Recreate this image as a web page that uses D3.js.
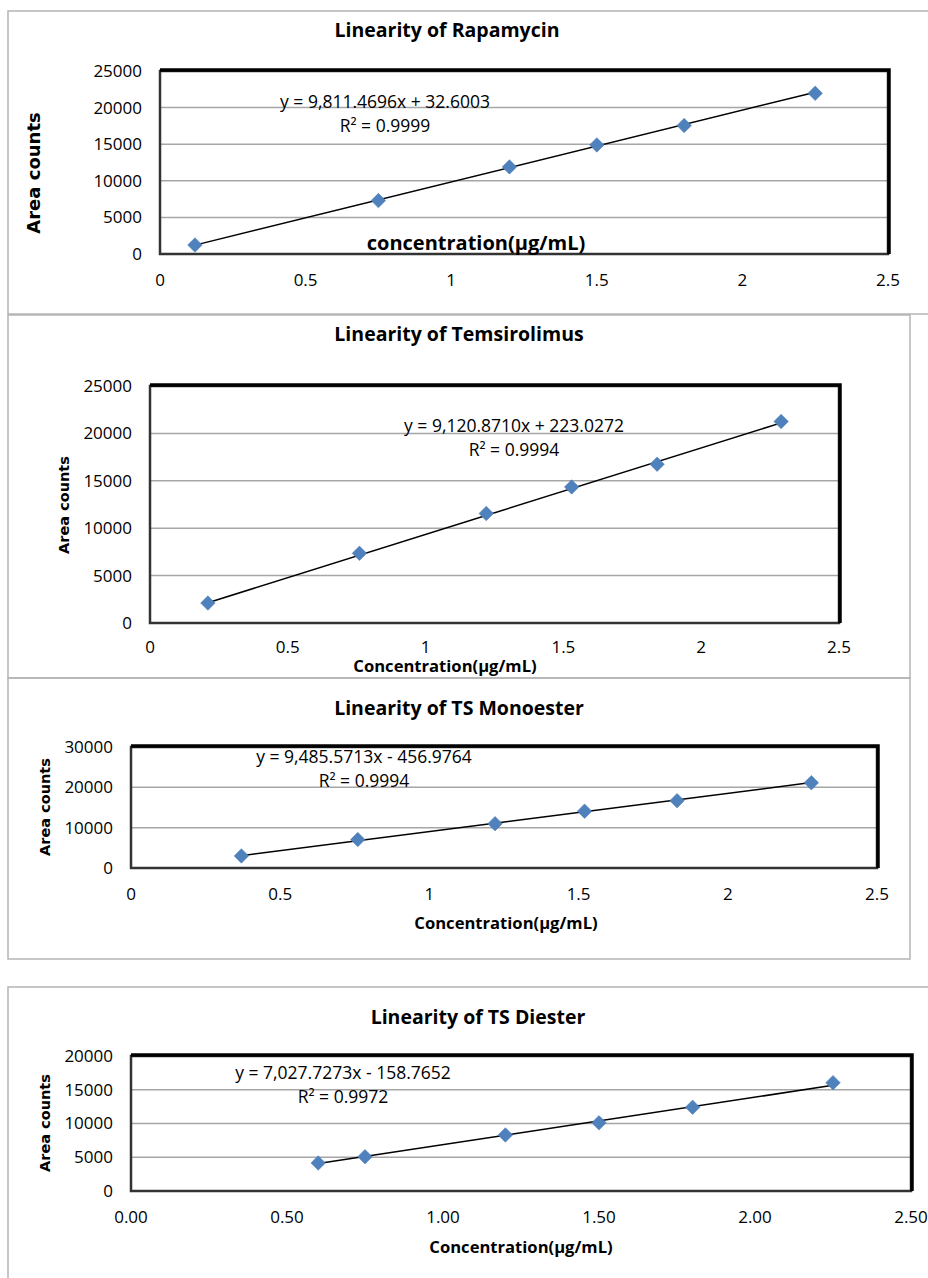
<!DOCTYPE html>
<html lang="en">
  <head>
    <meta charset="UTF-8" />
    <title>Linearity plots – D3.js</title>
    <script src="https://d3js.org/d3.v7.min.js"></script>
    <style>
      body {
        margin: 0;
        background: #fff;
      }
      svg {
        display: block;
        font-family: 'Open Sans', sans-serif;
      }
      .tick-label {
        font-size: 17px;
        fill: #000;
      }
      .eq-text {
        font-size: 17.5px;
        fill: #000;
      }
      .title {
        font-size: 19.5px;
        font-weight: bold;
      }
      .x-title {
        font-weight: bold;
      }
      .y-title {
        font-family: 'DejaVu Sans', sans-serif;
        font-weight: bold;
      }
    </style>
  </head>
  <body>
    <svg width="928" height="1278"></svg>

    <script>
      // data
      const titles = [
        'Linearity of Rapamycin',
        'Linearity of Temsirolimus',
        'Linearity of TS Monoester',
        'Linearity of TS Diester',
      ];
      const xTitles = [
        'concentration(µg/mL)',
        'Concentration(µg/mL)',
        'Concentration(µg/mL)',
        'Concentration(µg/mL)',
      ];
      const yTitle = 'Area counts';

      const rapaConc = [0.12, 0.75, 1.2, 1.5, 1.8, 2.25];
      const rapaArea = [1230, 7300, 11900, 14900, 17550, 21950];
      const temsConc = [0.21, 0.76, 1.22, 1.53, 1.84, 2.29];
      const temsArea = [2100, 7350, 11550, 14350, 16750, 21250];
      const monoConc = [0.37, 0.76, 1.22, 1.52, 1.83, 2.28];
      const monoArea = [3000, 7050, 11000, 14100, 16700, 21150];
      const diConc = [0.6, 0.75, 1.2, 1.5, 1.8, 2.25];
      const diArea = [4150, 5080, 8300, 10100, 12400, 16050];

      const slopes = [9811.4696, 9120.871, 9485.5713, 7027.7273];
      const intercepts = [32.6003, 223.0272, -456.9764, -158.7652];
      const r2Values = ['0.9999', '0.9994', '0.9994', '0.9972'];

      const yMax = [25000, 25000, 30000, 20000];
      const yStep = [5000, 5000, 10000, 5000];
      const xTicks = [0, 0.5, 1, 1.5, 2, 2.5];
      const xTickDigits = [0, 0, 0, 2];

      const concs = [rapaConc, temsConc, monoConc, diConc];
      const areas = [rapaArea, temsArea, monoArea, diArea];

      // layout of each panel (page coordinates)
      const layout = [
        {
          box: [8, 11, 940, 303],
          plot: { l: 160, r: 888, t: 71, b: 254 },
          title: [447, 30],
          xTitle: [476, 243, 20],
          yTitle: [34, 173, 18],
          eq: [385, 102],
          xTickGap: 26,
        },
        {
          box: [8, 315, 902, 363],
          plot: { l: 150, r: 839, t: 386, b: 623 },
          title: [459, 334],
          xTitle: [445, 666, 16.6],
          yTitle: [64, 505, 14.5],
          eq: [514, 426],
          xTickGap: 24,
        },
        {
          box: [8, 678, 902, 281],
          plot: { l: 131, r: 877, t: 747, b: 868 },
          title: [459, 708],
          xTitle: [506, 923, 16.6],
          yTitle: [45, 807, 14.5],
          eq: [364, 757],
          xTickGap: 26,
        },
        {
          box: [8, 987, 940, 400],
          plot: { l: 131, r: 911, t: 1056, b: 1191 },
          title: [478, 1017],
          xTitle: [521, 1247, 16.6],
          yTitle: [45, 1123, 14.5],
          eq: [343, 1073],
          xTickGap: 26,
        },
      ];

      const svg = d3.select('svg');

      layout.forEach((lay, i) => {
        const p = lay.plot;
        const g = svg.append('g');

        // outer chart box
        g.append('rect')
          .attr('x', lay.box[0])
          .attr('y', lay.box[1])
          .attr('width', lay.box[2])
          .attr('height', lay.box[3])
          .attr('fill', 'none')
          .attr('stroke', '#b4b4b4')
          .attr('stroke-width', 1.5);

        const x = d3.scaleLinear().domain([0, 2.5]).range([p.l, p.r]);
        const y = d3.scaleLinear().domain([0, yMax[i]]).range([p.b, p.t]);
        const yTicks = d3.range(0, yMax[i] + 1, yStep[i]);

        // gridlines
        g.selectAll('line.grid')
          .data(yTicks.slice(1, -1))
          .join('line')
          .attr('class', 'grid')
          .attr('x1', p.l)
          .attr('x2', p.r)
          .attr('y1', (d) => y(d))
          .attr('y2', (d) => y(d))
          .attr('stroke', '#a6a6a6')
          .attr('stroke-width', 1.5);

        // plot area frame: heavy top/right like the Excel shadow
        g.append('rect')
          .attr('x', p.l)
          .attr('y', p.t)
          .attr('width', p.r - p.l)
          .attr('height', p.b - p.t)
          .attr('fill', 'none')
          .attr('stroke', '#333')
          .attr('stroke-width', 2.5);
        g.append('path')
          .attr('d', `M${p.l},${p.t - 1}H${p.r + 1}V${p.b}`)
          .attr('fill', 'none')
          .attr('stroke', '#000')
          .attr('stroke-width', 3.5);

        // tick labels
        g.selectAll('text.ytick')
          .data(yTicks)
          .join('text')
          .attr('class', 'tick-label ytick')
          .attr('x', p.l - 18)
          .attr('y', (d) => y(d))
          .attr('dy', '0.35em')
          .attr('text-anchor', 'end')
          .text((d) => d);

        const fmt = d3.format(`.${xTickDigits[i]}f`);
        g.selectAll('text.xtick')
          .data(xTicks)
          .join('text')
          .attr('class', 'tick-label xtick')
          .attr('x', (d) => x(d))
          .attr('y', p.b + lay.xTickGap)
          .attr('dy', '0.35em')
          .attr('text-anchor', 'middle')
          .text((d) => (xTickDigits[i] ? fmt(d) : String(d)));

        // trendline from the fitted equation
        const xs = d3.extent(concs[i]);
        const fit = (v) => slopes[i] * v + intercepts[i];
        g.append('line')
          .attr('x1', x(xs[0]))
          .attr('y1', y(fit(xs[0])))
          .attr('x2', x(xs[1]))
          .attr('y2', y(fit(xs[1])))
          .attr('stroke', '#000')
          .attr('stroke-width', 1.5);

        // diamond markers
        const diamond = d3.symbol().type(d3.symbolSquare).size(105);
        g.selectAll('path.pt')
          .data(concs[i].map((c, k) => [c, areas[i][k]]))
          .join('path')
          .attr('class', 'pt')
          .attr('d', diamond)
          .attr('transform', (d) => `translate(${x(d[0])},${y(d[1])}) rotate(45)`)
          .attr('fill', '#4f81bd')
          .attr('stroke', '#4a7bb5')
          .attr('stroke-width', 0.5);

        // equation + R²
        const slopeTxt = d3.format(',.4f')(slopes[i]);
        const b = intercepts[i];
        const eqTxt = `y = ${slopeTxt}x ${b < 0 ? '-' : '+'} ${Math.abs(b).toFixed(4)}`;
        g.append('text')
          .attr('class', 'eq-text')
          .attr('x', lay.eq[0])
          .attr('y', lay.eq[1])
          .attr('dy', '0.35em')
          .attr('text-anchor', 'middle')
          .text(eqTxt);
        g.append('text')
          .attr('class', 'eq-text')
          .attr('x', lay.eq[0])
          .attr('y', lay.eq[1] + 24)
          .attr('dy', '0.35em')
          .attr('text-anchor', 'middle')
          .text(`R² = ${r2Values[i]}`);

        // titles
        g.append('text')
          .attr('class', 'title')
          .attr('x', lay.title[0])
          .attr('y', lay.title[1])
          .attr('dy', '0.35em')
          .attr('text-anchor', 'middle')
          .text(titles[i]);

        g.append('text')
          .attr('class', 'x-title')
          .attr('x', lay.xTitle[0])
          .attr('y', lay.xTitle[1])
          .attr('dy', '0.35em')
          .attr('text-anchor', 'middle')
          .style('font-size', lay.xTitle[2] + 'px')
          .text(xTitles[i]);

        g.append('text')
          .attr('class', 'y-title')
          .attr('transform', `translate(${lay.yTitle[0]},${lay.yTitle[1]}) rotate(-90)`)
          .attr('dy', '0.35em')
          .attr('text-anchor', 'middle')
          .style('font-size', lay.yTitle[2] + 'px')
          .text(yTitle);
      });
    </script>
  </body>
</html>
